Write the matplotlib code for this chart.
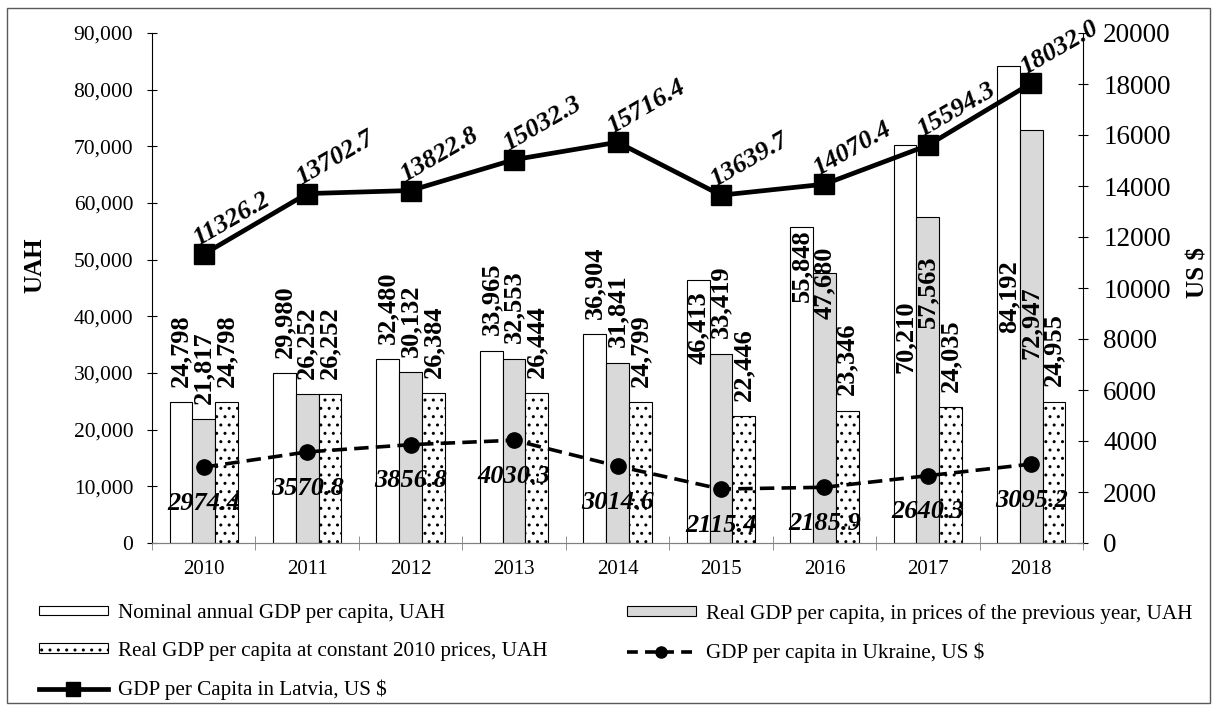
import matplotlib
matplotlib.use('Agg')
import matplotlib.pyplot as plt
import numpy as np
from matplotlib.lines import Line2D
from matplotlib.patches import Rectangle, Patch
import matplotlib.ticker as mticker

plt.rcParams['font.family'] = ['Liberation Serif', 'DejaVu Serif']
plt.rcParams['hatch.linewidth'] = 1.0

years = ['2010', '2011', '2012', '2013', '2014', '2015', '2016', '2017', '2018']
nominal_uah = [24798, 29980, 32480, 33965, 36904, 46413, 55848, 70210, 84192]
real_prev_uah = [21817, 26252, 30132, 32553, 31841, 33419, 47680, 57563, 72947]
real_2010_uah = [24798, 26252, 26384, 26444, 24799, 22446, 23346, 24035, 24955]
ukraine_usd = [2974.4, 3570.8, 3856.8, 4030.3, 3014.6, 2115.4, 2185.9, 2640.3, 3095.2]
latvia_usd = [11326.2, 13702.7, 13822.8, 15032.3, 15716.4, 13639.7, 14070.4, 15594.3, 18032.0]

legend_labels = ['Nominal annual GDP per capita, UAH',
                 'Real GDP per capita, in prices of the previous year, UAH',
                 'Real GDP per capita at constant 2010 prices, UAH',
                 'GDP per capita in Ukraine, US $',
                 'GDP per Capita in Latvia, US $']

# label anchors (UAH) for labels that sit inside tall bars
nominal_label_at = {5: 31500, 6: 42500, 7: 30000, 8: 37000}
real_prev_label_at = {6: 39500, 7: 38000, 8: 32500}

W, H = 1218, 711
fig = plt.figure(figsize=(W / 100, H / 100), dpi=100)
ax = fig.add_axes([152 / W, 1 - 543 / H, (1083 - 152) / W, 510 / H])
ax2 = ax.twinx()

x = np.arange(len(years))
w = 0.22
bw = 0.8
b1 = ax.bar(x - w, nominal_uah, w, color='white', edgecolor='black', linewidth=bw)
b2 = ax.bar(x, real_prev_uah, w, color='#d9d9d9', edgecolor='black', linewidth=bw)
b3 = ax.bar(x + w, real_2010_uah, w, color='white', edgecolor='black', linewidth=bw, hatch='..')

lab_kw = dict(rotation=90, ha='center', va='bottom', fontsize=19, fontweight='bold')
for series, off, override in [(nominal_uah, -w, nominal_label_at),
                              (real_prev_uah, 0, real_prev_label_at),
                              (real_2010_uah, w, {})]:
    for i, v in enumerate(series):
        if i in override:
            ax.annotate(f'{v:,}', xy=(x[i] + off, override[i]), xytext=(0, 0),
                        textcoords='offset points', **lab_kw)
        else:
            ax.annotate(f'{v:,}', xy=(x[i] + off, v), xytext=(0, 11),
                        textcoords='offset points', **lab_kw)

l_ukr, = ax2.plot(x, ukraine_usd, color='black', lw=2.6, ls=(0, (4, 2)),
                  marker='o', markersize=11)
l_lat, = ax2.plot(x, latvia_usd, color='black', lw=3.4, marker='s', markersize=14)

for i, v in enumerate(ukraine_usd):
    ax2.annotate(f'{v:.1f}', xy=(x[i], v), xytext=(0, -26), textcoords='offset points',
                 ha='center', va='center', fontsize=19, fontweight='bold', fontstyle='italic')
for i, v in enumerate(latvia_usd):
    ax2.annotate(f'{v:.1f}', xy=(x[i], v), xytext=(-4, 6), textcoords='offset points',
                 ha='left', va='baseline', rotation=30, rotation_mode='anchor',
                 fontsize=19, fontweight='bold', fontstyle='italic')

ax.set_xlim(-0.5, len(years) - 0.5)
ax.set_ylim(0, 90000)
ax2.set_ylim(0, 20000)
ax.set_yticks(np.arange(0, 90001, 10000))
ax.yaxis.set_major_formatter(mticker.FuncFormatter(lambda v, p: f'{int(v):,}'))
ax2.set_yticks(np.arange(0, 20001, 2000))
ax2.yaxis.set_major_formatter(mticker.FuncFormatter(lambda v, p: f'{int(v)}'))

ax.set_xticks(x)
ax.set_xticklabels(years)
ax.set_xticks(np.arange(-0.5, len(years)), minor=True)
ax.tick_params(axis='x', which='major', length=0, pad=12, labelsize=15)
ax.tick_params(axis='x', which='minor', direction='inout', length=10, color='#808080')
ax.tick_params(axis='y', direction='inout', length=7, pad=10, labelsize=15.5)
ax2.tick_params(axis='y', direction='inout', length=7, pad=11, labelsize=19.5)

for a in (ax, ax2):
    a.spines['top'].set_visible(False)
    a.spines['bottom'].set_color('#808080')
ax.spines['right'].set_visible(False)
ax2.spines['left'].set_visible(False)

ax.text(-0.126, 0.545, 'UAH', transform=ax.transAxes, rotation=90, ha='center', va='center',
        fontsize=18, fontweight='bold')
ax2.text(1.1235, 0.531, 'US $', transform=ax.transAxes, rotation=90, ha='center', va='center',
         fontsize=18, fontweight='bold')

p1 = Patch(facecolor='white', edgecolor='black', linewidth=bw)
p2 = Patch(facecolor='#d9d9d9', edgecolor='black', linewidth=bw)
p3 = Patch(facecolor='white', edgecolor='black', linewidth=bw, hatch='..')
h_ukr = Line2D([], [], color='black', lw=2.6, ls=(0, (3, 2)), marker='o', markersize=8)
h_lat = Line2D([], [], color='black', lw=3.4, marker='s', markersize=10)

leg_kw = dict(frameon=False, fontsize=15.2, handlelength=3.25, handletextpad=0.48,
              handleheight=0.33, labelspacing=0.885, borderpad=0, borderaxespad=0,
              loc='upper left', numpoints=1)
leg1 = fig.legend([p1, p3, h_lat], [legend_labels[0], legend_labels[2], legend_labels[4]],
                  bbox_to_anchor=(39 / W, 1 - 604 / H), **leg_kw)
leg2 = fig.legend([p2, h_ukr], [legend_labels[1], legend_labels[3]],
                  bbox_to_anchor=(627 / W, 1 - 604 / H), **leg_kw)

fig.add_artist(Rectangle((7 / W, 8 / H), (1210 - 7) / W, (703 - 8) / H,
                         transform=fig.transFigure, fill=False, edgecolor='#595959', lw=1))

fig.savefig('out.png', dpi=100)
